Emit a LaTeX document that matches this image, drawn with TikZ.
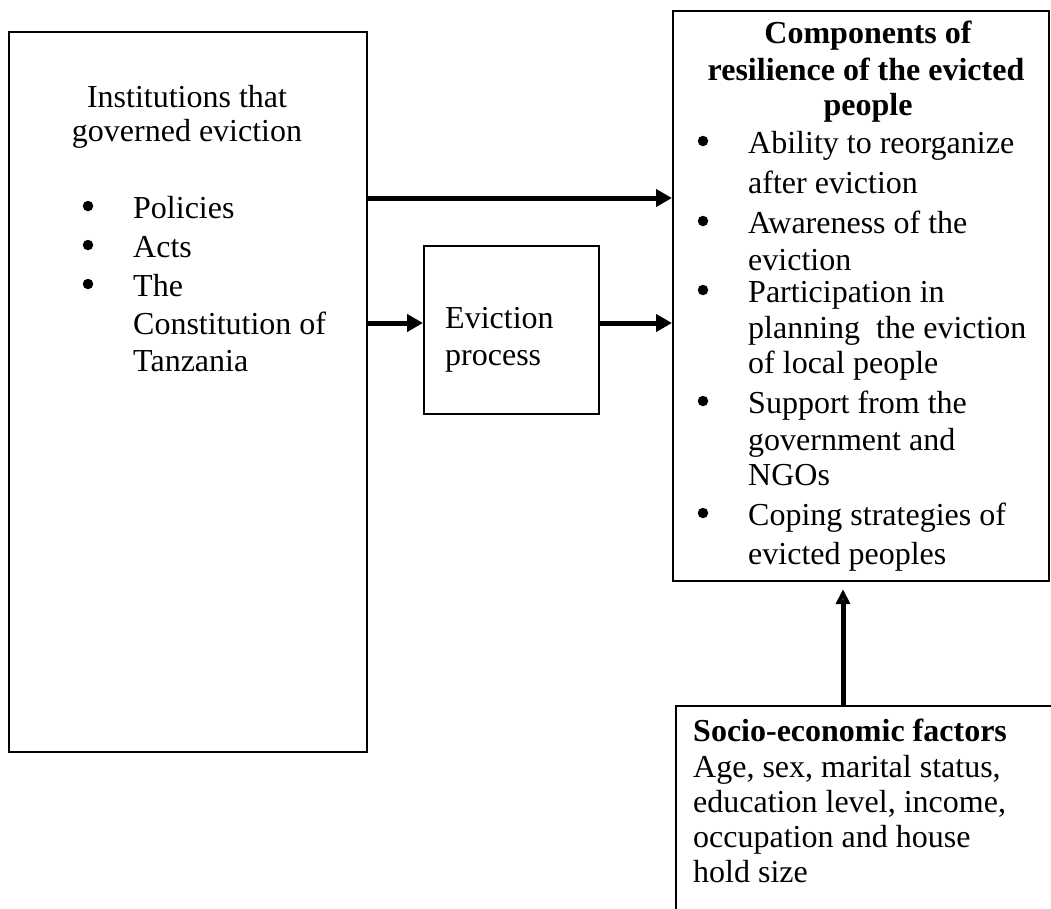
\documentclass[tikz,border=0pt]{standalone}
\usepackage{fontspec}
\setmainfont{Liberation Serif}
\usetikzlibrary{arrows.meta}
\begin{document}
\begin{tikzpicture}[x=1pt,y=-1pt,
  box/.style={draw=black, line width=2.2pt, inner sep=0pt, anchor=north west},
  arr/.style={line width=5pt, -{Triangle[length=16pt,width=17pt]}},
  uparr/.style={line width=5pt, -{Triangle[length=15pt,width=14pt,fill=black!75]}},
  txt/.style={inner sep=0pt, anchor=base west, font=\fontsize{32}{36}\selectfont},
  ctxt/.style={inner sep=0pt, anchor=base, font=\fontsize{32}{36}\selectfont},
  btxt/.style={inner sep=0pt, anchor=base, font=\fontsize{32}{36}\selectfont\bfseries},
  bul/.style={circle, fill=black, inner sep=0pt, minimum size=10.5pt}]
\useasboundingbox (0,0) rectangle (1051,908);
\clip (0,0) rectangle (1051,908);
% boxes
\node[box, minimum width=358pt, minimum height=720pt] (inst) at (8,31) {};
\node[box, minimum width=175pt, minimum height=168pt] (evp) at (423,245) {};
\node[box, minimum width=376pt, minimum height=570pt] (comp) at (672,10) {};
\node[box, minimum width=420pt, minimum height=260pt] (soc) at (675,705) {};
% left box text
\node[ctxt] (i1) at (187,107) {Institutions that};
\node[ctxt] (i2) at (187,141) {governed eviction};
\node[bul] (b1) at (88,206) {};
\node[txt] (p1) at (133,218) {Policies};
\node[bul] (b2) at (88,245) {};
\node[txt] (p2) at (133,257) {Acts};
\node[bul] (b3) at (88,284) {};
\node[txt] (p3) at (133,296) {The};
\node[txt] (p4) at (133,334) {Constitution of};
\node[txt] (p5) at (133,371) {Tanzania};
% eviction box text
\node[txt] (e1) at (445,328) {Eviction};
\node[txt] (e2) at (445,365) {process};
% right box text
\node[btxt] (c1) at (868,43) {Components of};
\node[btxt] (c2) at (866,80) {resilience of the evicted};
\node[btxt] (c3) at (868,115) {people};
\node[bul] (rb1) at (703,141) {};
\node[txt] (r1) at (748,153) {Ability to reorganize};
\node[txt] (r2) at (748,193) {after eviction};
\node[bul] (rb2) at (703,221) {};
\node[txt] (r3) at (748,233) {Awareness of the};
\node[txt] (r4) at (748,270) {eviction};
\node[bul] (rb3) at (703,290) {};
\node[txt] (r5) at (748,302) {Participation in};
\node[txt] (r6) at (748,338) {planning\ \ the eviction};
\node[txt] (r7) at (748,373) {of local people};
\node[bul] (rb4) at (703,401) {};
\node[txt] (r8) at (748,413) {Support from the};
\node[txt] (r9) at (748,450) {government and};
\node[txt] (r10) at (748,485) {NGOs};
\node[bul] (rb5) at (703,513) {};
\node[txt] (r11) at (748,525) {Coping strategies of};
\begin{scope}
\clip (672,540) rectangle (1048,570);
\node[txt] (r12) at (748,564) {evicted peoples};
\end{scope}
% socio box text
\node[txt, font=\fontsize{32}{36}\selectfont\bfseries] (s1) at (693,741) {Socio-economic factors};
\node[txt] (s2) at (693,777) {Age, sex, marital status,};
\node[txt] (s3) at (693,812) {education level, income,};
\node[txt] (s4) at (693,847) {occupation and house};
\node[txt] (s5) at (693,882) {hold size};
% connectors
\coordinate (a1) at (0,198);
\coordinate (a2) at (0,323);
\coordinate (a4) at (843,0);
\draw[arr] (inst.east |- a1) -- (comp.west |- a1);
\draw[arr] (inst.east |- a2) -- (evp.west |- a2);
\draw[arr] (evp.east |- a2) -- (comp.west |- a2);
\draw[uparr] (soc.north -| a4) -- ([yshift=-7pt]comp.south -| a4);
\end{tikzpicture}
\end{document}
